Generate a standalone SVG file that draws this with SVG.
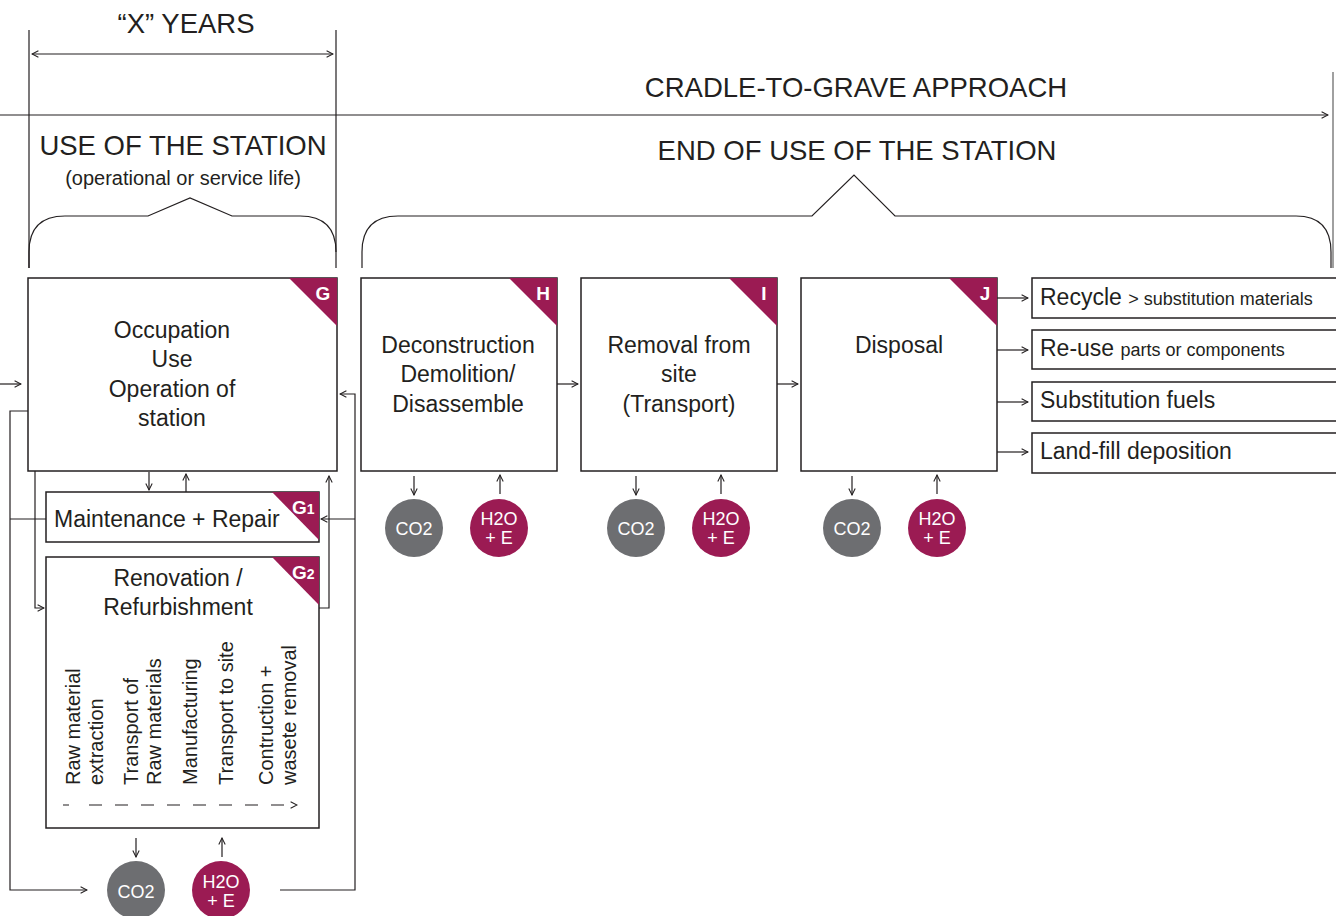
<svg xmlns="http://www.w3.org/2000/svg" width="1336" height="916" viewBox="0 0 1336 916">
<defs>
<marker id="ah" viewBox="0 0 10 10" refX="9" refY="5" markerWidth="8" markerHeight="8" markerUnits="userSpaceOnUse" orient="auto">
<path d="M1,1 L9,5 L1,9" fill="none" stroke="#231f20" stroke-width="1.3"/>
</marker>
<marker id="ahs" viewBox="0 0 10 10" refX="1" refY="5" markerWidth="8" markerHeight="8" markerUnits="userSpaceOnUse" orient="auto">
<path d="M9,1 L1,5 L9,9" fill="none" stroke="#231f20" stroke-width="1.3"/>
</marker>
<style>
text{font-family:"Liberation Sans",Arial,sans-serif;fill:#231f20}
.hd{font-size:27.5px;text-anchor:middle}
.bx{fill:#fff;stroke:#231f20;stroke-width:1.5}
.tri{fill:#9b1b53}
.lab{fill:#fff;font-weight:bold;font-size:19px;text-anchor:middle}
.sub{font-size:14px}
.t{font-size:23px;text-anchor:middle}
.tl{font-size:23px}
.sm{font-size:18px}
.v{font-size:20px}
.ln{fill:none;stroke:#231f20;stroke-width:1.2}
.co2{fill:#6d6e71}
.h2o{fill:#9b1b53}
.ct{fill:#fff;font-size:18px;text-anchor:middle}
</style>
</defs>

<g id="header">
<text class="hd" x="186" y="33">“X” YEARS</text>
<line class="ln" x1="29" y1="30" x2="29" y2="268"/>
<line class="ln" x1="336" y1="30" x2="336" y2="268"/>
<line class="ln" x1="32" y1="54" x2="333" y2="54" marker-start="url(#ahs)" marker-end="url(#ah)"/>
<text class="hd" x="856" y="97">CRADLE-TO-GRAVE APPROACH</text>
<line class="ln" x1="0" y1="115" x2="1328" y2="115" marker-end="url(#ah)"/>
<line x1="1333" y1="72" x2="1333" y2="268" stroke="#808080" stroke-width="1.5"/>
<text class="hd" x="183" y="155">USE OF THE STATION</text>
<text x="183" y="185" style="font-size:20px;text-anchor:middle">(operational or service life)</text>
<path class="ln" d="M29,268 L29,252 Q29,216 65,216 L148,216 L190,198 L232,216 L300,216 Q336,216 336,252"/>
<text class="hd" x="857" y="160">END OF USE OF THE STATION</text>
<path class="ln" d="M362,268 L362,252 Q362,216 398,216 L812,216 L854,175 L895,216 L1296,216 Q1331,216 1331,252 L1331,268"/>
</g>

<g id="connectors">
<line class="ln" x1="0" y1="384" x2="21" y2="384" marker-end="url(#ah)"/>
<line class="ln" x1="557" y1="384" x2="578" y2="384" marker-end="url(#ah)"/>
<line class="ln" x1="777" y1="384" x2="798" y2="384" marker-end="url(#ah)"/>
<line class="ln" x1="997" y1="298" x2="1028" y2="298" marker-end="url(#ah)"/>
<line class="ln" x1="997" y1="350" x2="1028" y2="350" marker-end="url(#ah)"/>
<line class="ln" x1="997" y1="402" x2="1028" y2="402" marker-end="url(#ah)"/>
<line class="ln" x1="997" y1="452" x2="1028" y2="452" marker-end="url(#ah)"/>
<line class="ln" x1="414" y1="476" x2="414" y2="495" marker-end="url(#ah)"/>
<line class="ln" x1="500" y1="494" x2="500" y2="475" marker-end="url(#ah)"/>
<line class="ln" x1="636" y1="476" x2="636" y2="495" marker-end="url(#ah)"/>
<line class="ln" x1="721" y1="494" x2="721" y2="475" marker-end="url(#ah)"/>
<line class="ln" x1="852" y1="476" x2="852" y2="495" marker-end="url(#ah)"/>
<line class="ln" x1="937" y1="494" x2="937" y2="475" marker-end="url(#ah)"/>
<line class="ln" x1="149" y1="472" x2="149" y2="490" marker-end="url(#ah)"/>
<line class="ln" x1="186" y1="492" x2="186" y2="474" marker-end="url(#ah)"/>
<line class="ln" x1="136" y1="838" x2="136" y2="857" marker-end="url(#ah)"/>
<line class="ln" x1="222" y1="857" x2="222" y2="838" marker-end="url(#ah)"/>
<path class="ln" d="M28,411 L10,411 L10,890 L87,890" marker-end="url(#ah)"/>
<line class="ln" x1="10" y1="519" x2="46" y2="519"/>
<path class="ln" d="M35,471 L35,608 L44,608" marker-end="url(#ah)"/>
<path class="ln" d="M280,890 L355,890 L355,394 L340,394" marker-end="url(#ah)"/>
<line class="ln" x1="355" y1="519" x2="321" y2="519" marker-end="url(#ah)"/>
<path class="ln" d="M319,608 L329,608 L329,476" marker-end="url(#ah)"/>
</g>

<g id="G">
<rect class="bx" x="28" y="278" width="309" height="193"/>
<path class="tri" d="M289,278 L337,278 L337,326 Z"/>
<text class="lab" x="323" y="300">G</text>
<text class="t" x="172" y="338">Occupation</text>
<text class="t" x="172" y="367">Use</text>
<text class="t" x="172" y="397">Operation of</text>
<text class="t" x="172" y="426">station</text>
</g>

<g id="G1">
<rect class="bx" x="46" y="492" width="273" height="50"/>
<path class="tri" d="M272,492 L319,492 L319,540 Z"/>
<text class="lab" x="292" y="514" style="text-anchor:start">G<tspan class="sub">1</tspan></text>
<text class="tl" x="54" y="527">Maintenance + Repair</text>
</g>

<g id="G2">
<rect class="bx" x="46" y="557" width="273" height="271"/>
<path class="tri" d="M272,557 L319,557 L319,605 Z"/>
<text class="lab" x="292" y="579" style="text-anchor:start">G<tspan class="sub">2</tspan></text>
<text class="t" x="178" y="586">Renovation /</text>
<text class="t" x="178" y="615">Refurbishment</text>
<g class="v">
<text transform="translate(80,785) rotate(-90)">Raw material</text>
<text transform="translate(103,785) rotate(-90)">extraction</text>
<text transform="translate(138,785) rotate(-90)">Transport of</text>
<text transform="translate(161,785) rotate(-90)">Raw materials</text>
<text transform="translate(197,785) rotate(-90)">Manufacturing</text>
<text transform="translate(233,785) rotate(-90)">Transport to site</text>
<text transform="translate(273,785) rotate(-90)">Contruction +</text>
<text transform="translate(296,785) rotate(-90)">wasete removal</text>
</g>
<line class="ln" x1="63" y1="805" x2="297" y2="805" stroke-dasharray="6 20 13 13 13 13 13 13 13 13 13 13 13 13 13 13 13 13 13 13" marker-end="url(#ah)"/>
</g>

<g id="G2-flows">
<circle class="co2" cx="136" cy="890" r="29"/>
<text class="ct" x="136" y="898">CO2</text>
<circle class="h2o" cx="221" cy="890" r="29"/>
<text class="ct" x="221" y="888">H2O</text>
<text class="ct" x="221" y="907">+ E</text>
</g>

<g id="H">
<rect class="bx" x="361" y="278" width="196" height="193"/>
<path class="tri" d="M509,278 L557,278 L557,326 Z"/>
<text class="lab" x="543" y="300">H</text>
<text class="t" x="458" y="353">Deconstruction</text>
<text class="t" x="458" y="382">Demolition/</text>
<text class="t" x="458" y="412">Disassemble</text>
<circle class="co2" cx="414" cy="528" r="29"/>
<text class="ct" x="414" y="535">CO2</text>
<circle class="h2o" cx="499" cy="528" r="29"/>
<text class="ct" x="499" y="525">H2O</text>
<text class="ct" x="499" y="544">+ E</text>
</g>

<g id="I">
<rect class="bx" x="581" y="278" width="196" height="193"/>
<path class="tri" d="M729,278 L777,278 L777,326 Z"/>
<text class="lab" x="764" y="300">I</text>
<text class="t" x="679" y="353">Removal from</text>
<text class="t" x="679" y="382">site</text>
<text class="t" x="679" y="412">(Transport)</text>
<circle class="co2" cx="636" cy="528" r="29"/>
<text class="ct" x="636" y="535">CO2</text>
<circle class="h2o" cx="721" cy="528" r="29"/>
<text class="ct" x="721" y="525">H2O</text>
<text class="ct" x="721" y="544">+ E</text>
</g>

<g id="J">
<rect class="bx" x="801" y="278" width="196" height="193"/>
<path class="tri" d="M949,278 L997,278 L997,326 Z"/>
<text class="lab" x="985" y="300">J</text>
<text class="t" x="899" y="353">Disposal</text>
<circle class="co2" cx="852" cy="528" r="29"/>
<text class="ct" x="852" y="535">CO2</text>
<circle class="h2o" cx="937" cy="528" r="29"/>
<text class="ct" x="937" y="525">H2O</text>
<text class="ct" x="937" y="544">+ E</text>
</g>

<g id="recycle">
<rect class="bx" x="1032" y="278" width="310" height="40"/>
<text class="tl" x="1040" y="305">Recycle <tspan class="sm">&gt; substitution materials</tspan></text>
</g>
<g id="reuse">
<rect class="bx" x="1032" y="330" width="310" height="39"/>
<text class="tl" x="1040" y="356">Re-use <tspan class="sm">parts or components</tspan></text>
</g>
<g id="fuels">
<rect class="bx" x="1032" y="382" width="310" height="39"/>
<text class="tl" x="1040" y="408">Substitution fuels</text>
</g>
<g id="landfill">
<rect class="bx" x="1032" y="433" width="310" height="40"/>
<text class="tl" x="1040" y="459">Land-fill deposition</text>
</g>
</svg>
